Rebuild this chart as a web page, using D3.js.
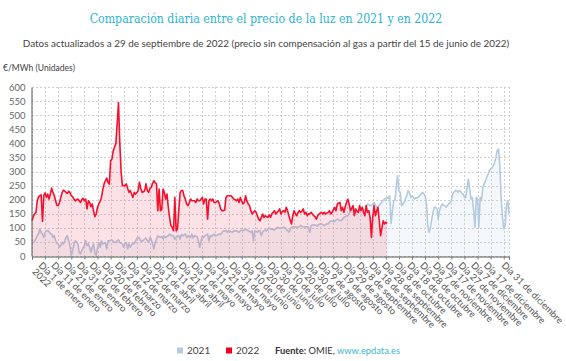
<!DOCTYPE html>
<html>
<head>
<meta charset="utf-8">
<script src="https://cdn.jsdelivr.net/npm/d3@7"></script>
<style>
  body { margin: 0; background: #fff; }
  svg { display: block; font-family: Lato, "Liberation Sans", sans-serif; }
</style>
</head>
<body>
<svg id="chart" width="566" height="361"></svg>
<script>
// Precio diario (€/MWh), 1 de enero a 31 de diciembre de 2021
const precio2021 = [
  43, 48, 54, 62, 72, 80, 96, 84, 78, 66, 84, 90, 90, 86, 80, 78, 66, 72, 55, 45,
  43, 31, 37, 48, 43, 54, 66, 72, 54, 35, 1, 19, 43, 54, 50, 43, 13, 7, 20, 30,
  37, 54, 37, 43, 31, 13, 31, 43, 10, 1, 31, 48, 31, 54, 43, 45, 48, 25, 54, 54,
  56, 57, 52, 48, 50, 54, 57, 48, 45, 43, 31, 43, 48, 25, 43, 31, 40, 48, 43, 54,
  62, 66, 64, 54, 52, 56, 60, 64, 54, 48, 66, 60, 43, 25, 48, 60, 72, 68, 66, 69,
  62, 70, 66, 70, 72, 78, 74, 72, 72, 60, 66, 70, 72, 60, 76, 72, 75, 78, 66, 72,
  68, 66, 78, 64, 72, 70, 69, 54, 31, 54, 72, 66, 72, 75, 78, 54, 72, 69, 74, 78,
  72, 72, 76, 78, 76, 84, 88, 89, 90, 84, 90, 88, 86, 84, 90, 88, 90, 87, 84, 90,
  92, 90, 93, 96, 92, 90, 87, 84, 90, 54, 90, 88, 84, 90, 90, 72, 85, 90, 92, 90,
  96, 99, 97, 95, 94, 92, 96, 102, 100, 99, 99, 100, 102, 101, 95, 90, 84, 95, 102, 103,
  104, 103, 102, 102, 105, 108, 105, 103, 102, 104, 104, 100, 84, 108, 110, 111, 110, 108, 108, 112,
  114, 114, 110, 108, 112, 114, 114, 120, 125, 124, 123, 123, 128, 131, 128, 125, 125, 132, 137, 140,
  143, 143, 150, 161, 165, 167, 167, 160, 155, 155, 165, 173, 168, 165, 161, 172, 185, 182, 179, 179,
  185, 190, 182, 173, 173, 180, 185, 192, 198, 202, 205, 208, 205, 214, 115, 160, 196, 198, 250, 285,
  232, 226, 179, 185, 190, 205, 214, 232, 226, 208, 214, 208, 202, 208, 206, 210, 214, 220, 226, 220,
  214, 190, 110, 84, 100, 130, 155, 173, 173, 168, 131, 161, 175, 185, 180, 179, 173, 179, 185, 190,
  196, 220, 226, 232, 232, 226, 232, 230, 222, 220, 208, 208, 244, 273, 238, 202, 208, 161, 102, 208,
  202, 102, 208, 196, 244, 256, 267, 280, 290, 303, 309, 312, 320, 332, 350, 375, 380, 321, 208, 137,
  96, 108, 179, 196, 149
];

// Precio diario (€/MWh), 1 de enero a 29 de septiembre de 2022
const precio2022 = [
  125, 140, 150, 155, 195, 210, 214, 217, 123, 215, 224, 208, 220, 202, 220, 241, 225, 215, 196, 180,
  179, 190, 208, 226, 234, 230, 226, 222, 230, 225, 214, 211, 202, 196, 200, 202, 196, 190, 200, 205,
  196, 202, 167, 196, 190, 175, 185, 160, 140, 150, 173, 185, 195, 208, 235, 256, 267, 277, 262, 255,
  338, 344, 374, 386, 400, 470, 545, 400, 300, 250, 250, 250, 256, 240, 226, 232, 220, 208, 226, 220,
  225, 232, 262, 240, 226, 228, 232, 256, 232, 226, 240, 244, 258, 267, 260, 256, 161, 238, 161, 165,
  238, 226, 202, 220, 173, 137, 108, 102, 90, 208, 90, 95, 161, 225, 232, 232, 214, 202, 185, 179,
  190, 202, 196, 196, 196, 190, 202, 196, 196, 202, 208, 185, 202, 202, 131, 196, 202, 196, 202, 190,
  190, 193, 196, 185, 167, 161, 161, 163, 208, 214, 214, 214, 214, 208, 202, 200, 196, 202, 190, 208,
  195, 185, 190, 214, 195, 185, 179, 161, 149, 155, 161, 155, 143, 130, 125, 137, 149, 137, 143, 140,
  137, 146, 137, 150, 155, 161, 149, 155, 160, 167, 149, 158, 161, 155, 173, 161, 143, 128, 114, 143,
  161, 150, 143, 155, 161, 155, 160, 167, 149, 155, 143, 150, 149, 155, 149, 143, 140, 131, 143, 149,
  152, 155, 149, 155, 149, 152, 155, 161, 149, 155, 165, 173, 161, 185, 188, 190, 161, 173, 155, 175,
  190, 202, 185, 161, 170, 179, 143, 167, 160, 155, 179, 161, 173, 155, 143, 179, 155, 161, 137, 66,
  137, 179, 143, 160, 173, 125, 72, 100, 125, 114, 120, 116
];

const yTicks = [0, 50, 100, 150, 200, 250, 300, 350, 400, 450, 500, 550, 600];

// Día del año de cada etiqueta del eje X y su texto
const xTickDays = [0, 10, 20, 30, 40, 50, 60, 70, 80, 90, 100, 110, 120, 130, 140, 150, 160, 170,
  180, 190, 200, 210, 220, 230, 240, 250, 260, 270, 280, 290, 300, 310, 320, 330, 340, 350, 364];
const xTickLabels = ["Día 1 de enero", "Día 11 de enero", "Día 21 de enero", "Día 31 de enero",
  "Día 10 de febrero", "Día 20 de febrero", "Día 2 de marzo", "Día 12 de marzo", "Día 22 de marzo",
  "Día 1 de abril", "Día 11 de abril", "Día 21 de abril", "Día 1 de mayo", "Día 11 de mayo",
  "Día 21 de mayo", "Día 31 de mayo", "Día 10 de junio", "Día 20 de junio", "Día 30 de junio",
  "Día 10 de julio", "Día 20 de julio", "Día 30 de julio", "Día 9 de agosto", "Día 19 de agosto",
  "Día 29 de agosto", "Día 8 de septiembre", "Día 18 de septiembre", "Día 28 de septiembre",
  "Día 8 de octubre", "Día 18 de octubre", "Día 28 de octubre", "Día 7 de noviembre",
  "Día 17 de noviembre", "Día 27 de noviembre", "Día 7 de diciembre", "Día 17 de diciembre",
  "Día 31 de diciembre"];
const gridDays = [0, 10, 20, 30, 40, 50, 60, 70, 80, 90, 100, 110, 120, 130, 140, 150, 160, 170,
  180, 190, 200, 210, 220, 230, 240, 250, 260, 270, 280, 290, 300, 310, 320, 330, 340, 350, 360, 364];

const series = [
  { name: "2021", values: precio2021, line: "#b3cbe0", fill: "rgba(179,203,224,0.13)", key: "#b7cce0" },
  { name: "2022", values: precio2022, line: "#f5102e", fill: "rgba(232,25,60,0.13)", key: "#f0001e" }
];

const svg = d3.select("#chart");
const plot = { left: 32, right: 509, top: 87, bottom: 256 };

const x = d3.scaleLinear().domain([0, 364]).range([plot.left, plot.right]);
const y = d3.scaleLinear().domain([0, 600]).range([plot.bottom, plot.top]);
// the rotated labels sit on a slightly narrower band than the ticks
const xLabel = d3.scaleLinear().domain([0, 364]).range([38, 501]);

// shrink a text's font so that it spans the given width
function fitText(sel, width) {
  const size = parseFloat(sel.style("font-size"));
  const w = sel.node().getComputedTextLength();
  sel.style("font-size", (size * width / w).toFixed(2) + "px");
}

// Titles
const title = svg.append("text")
  .attr("x", 266).attr("y", 23)
  .attr("text-anchor", "middle")
  .attr("fill", "#2ab5cf")
  .style("font-family", "'DejaVu Serif Condensed', 'Liberation Serif', serif")
  .style("font-size", "16px")
  .text("Comparación diaria entre el precio de la luz en 2021 y en 2022");
fitText(title, 353);

const subtitle = svg.append("text")
  .attr("x", 266).attr("y", 47)
  .attr("text-anchor", "middle")
  .attr("fill", "#444")
  .style("font-size", "12px")
  .text("Datos actualizados a 29 de septiembre de 2022 (precio sin compensación al gas a partir del 15 de junio de 2022)");
fitText(subtitle, 487);

const unit = svg.append("text")
  .attr("x", 3).attr("y", 71)
  .attr("fill", "#444")
  .style("font-size", "10px")
  .text("€/MWh (Unidades)");
fitText(unit, 72);

// Grid
svg.append("g")
  .selectAll("line")
  .data(yTicks)
  .join("line")
  .attr("x1", plot.left).attr("x2", plot.right)
  .attr("y1", d => Math.round(y(d)) + 0.5).attr("y2", d => Math.round(y(d)) + 0.5)
  .attr("stroke", "#d0d0d0")
  .attr("stroke-dasharray", "2,2");

svg.append("g")
  .selectAll("line")
  .data(gridDays)
  .join("line")
  .attr("x1", d => Math.round(x(d)) + 0.5).attr("x2", d => Math.round(x(d)) + 0.5)
  .attr("y1", plot.top).attr("y2", plot.bottom)
  .attr("stroke", "#d0d0d0")
  .attr("stroke-dasharray", "2,2");

// Areas and lines
const area = d3.area()
  .x((d, i) => x(i))
  .y0(y(0))
  .y1(d => y(d));
const line = d3.line()
  .x((d, i) => x(i))
  .y(d => y(d));

series.forEach(s => {
  svg.append("path")
    .datum(s.values)
    .attr("d", area)
    .attr("fill", s.fill);
  svg.append("path")
    .datum(s.values)
    .attr("d", line)
    .attr("fill", "none")
    .attr("stroke", s.line)
    .attr("stroke-width", 1.6)
    .attr("stroke-linejoin", "round");
});

// Y axis
const yAxis = svg.append("g")
  .attr("transform", `translate(${plot.left - 0.5},0)`)
  .call(d3.axisLeft(y).tickValues(yTicks).tickSize(0).tickPadding(6));
yAxis.select(".domain").attr("stroke", "#555");
yAxis.selectAll("text")
  .attr("fill", "#666")
  .style("font-size", "9.5px")
  .style("font-family", "Lato, sans-serif");

// X axis
const xAxis = svg.append("g")
  .attr("transform", `translate(0,${plot.bottom + 0.5})`)
  .call(d3.axisBottom(x).tickValues(gridDays).tickSize(3).tickFormat(""));
xAxis.select(".domain").attr("stroke", "#555");
xAxis.selectAll(".tick line").attr("stroke", "#777");

const labels = svg.append("g")
  .selectAll("text")
  .data(xTickDays)
  .join("text")
  .attr("transform", d => `translate(${xLabel(d)},${plot.bottom + 10}) rotate(45)`)
  .attr("fill", "#555")
  .style("font-size", "9.4px");
labels.append("tspan")
  .attr("x", 0)
  .text((d, i) => xTickLabels[i]);
labels.filter((d, i) => i === 0)
  .append("tspan")
  .attr("x", 0).attr("dy", "0.95em")
  .text("2022");

// Legend and source
const legend = svg.append("g").attr("transform", "translate(0,354)");
legend.selectAll("rect")
  .data(series)
  .join("rect")
  .attr("x", (d, i) => 177 + i * 49)
  .attr("y", -6.5)
  .attr("width", 6).attr("height", 6)
  .attr("fill", d => d.key);
legend.selectAll("text.serie")
  .data(series)
  .join("text")
  .attr("class", "serie")
  .attr("x", (d, i) => 187 + i * 49)
  .attr("fill", "#444")
  .style("font-size", "10px")
  .text(d => d.name);

const fuente = legend.append("text")
  .attr("x", 275)
  .attr("fill", "#333")
  .style("font-size", "10px");
fuente.append("tspan").style("font-weight", "bold").text("Fuente:");
fuente.append("tspan").text(" OMIE, ");
fuente.append("tspan").attr("fill", "#3bb5cf").text("www.epdata.es");
fitText(fuente, 125);
</script>
</body>
</html>
